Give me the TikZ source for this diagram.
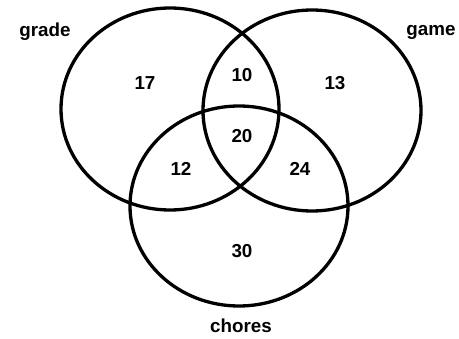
\documentclass[tikz,border=0pt]{standalone}
\usepackage{fontspec}
\setmainfont{Liberation Sans}
\begin{document}
\begin{tikzpicture}[x=1pt,y=-1pt,
  ring/.style={draw=black,line width=3.3pt},
  lbl/.style={font=\fontsize{18.8}{20}\selectfont\bfseries,anchor=base,inner sep=0pt},
  num/.style={font=\fontsize{18.8}{20}\selectfont\bfseries,anchor=base,inner sep=0pt}]
\useasboundingbox (0,0) rectangle (459,339);
\draw[ring] (170,109) ellipse [x radius=109, y radius=101];
\draw[ring] (312,110.5) ellipse [x radius=109, y radius=100.5];
\draw[ring] (239,206) ellipse [x radius=109, y radius=100];
\node[lbl] (grade) at (45,37) {grade};
\node[lbl] (game) at (431,36) {game};
\node[lbl] (chores) at (241,333) {chores};
\node[num] (n17) at (145,90) {17};
\node[num] (n10) at (242,82) {10};
\node[num] (n13) at (335,90) {13};
\node[num] (n20) at (242,143) {20};
\node[num] (n12) at (181,176) {12};
\node[num] (n24) at (300,176) {24};
\node[num] (n30) at (242,258) {30};
\end{tikzpicture}
\end{document}
